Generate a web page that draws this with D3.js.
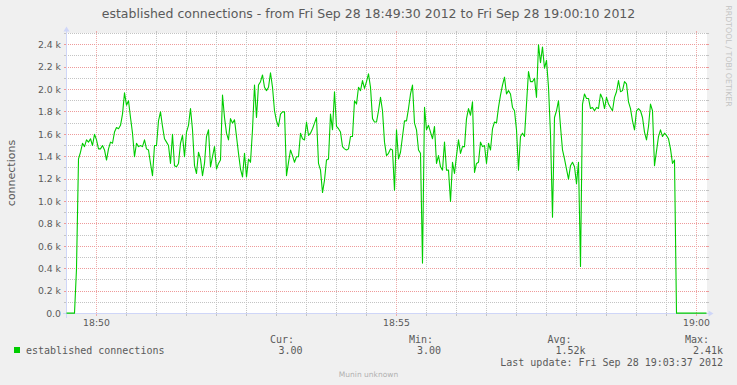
<!DOCTYPE html>
<html><head><meta charset="utf-8">
<script src="https://cdn.jsdelivr.net/npm/d3@7"></script>
<style>html,body{margin:0;padding:0;background:#f0f0f0;} svg{display:block;}</style>
</head><body><svg id="chart" width="737" height="385"></svg>
<script>
// ---------- data ----------
const chartTitle = "established connections - from Fri Sep 28 18:49:30 2012 to Fri Sep 28 19:00:10 2012";
const yAxisTitle = "connections";
const startTime = "2012-09-28T18:49:30Z";
const endTime = "2012-09-28T19:00:10Z";
const stepSeconds = 2;
const connections = [
  3,3,3,3,3,400,1380,1440,1520,1490,1550,1530,1560,1500,1600,1550,1470,1470,1500,1460,
  1370,1470,1530,1520,1620,1660,1650,1680,1780,1970,1860,1900,1750,1610,1400,1520,1490,1500,1490,1550,
  1470,1460,1340,1230,1500,1500,1720,1800,1670,1560,1530,1500,1340,1600,1320,1310,1340,1520,1590,1400,
  1620,1680,1830,1640,
  1320,1250,1440,1380,1230,1340,1580,1640,1310,1400,1490,1290,1340,1370,1950,1750,1610,1550,1740,1700,
  1730,1580,1430,1290,1220,1430,1220,1380,1350,1640,2040,1750,2040,2070,2130,2020,1990,2020,2150,2020,
  1810,1720,1670,1780,1800,1800,1230,1350,1460,1410,1350,1400,1400,1610,1560,1550,1710,1590,1610,1650,
  1700,1750,1340,1280,
  1080,1190,1370,1380,1780,1640,1980,1670,1650,1620,1490,1470,1460,1470,1580,1580,1900,1870,2020,1990,
  2080,2010,2070,2140,2020,1740,1710,1710,1810,1930,1810,1530,1410,1430,1470,1460,1100,1640,1380,1440,
  1580,1720,1720,1830,1960,2040,1700,1640,1460,1430,450,1840,1640,1680,1620,1560,1670,1340,1410,1310,
  1280,1530,1280,1280,
  1000,1350,1250,1410,1550,1430,1490,1490,1740,1830,1770,1890,1260,1340,1350,1530,1490,1500,1340,1520,
  1460,1650,1710,1700,1840,1950,2040,2110,1960,1990,1960,1840,1810,1640,1280,1580,1610,1580,1870,2160,
  2070,2070,2100,1930,2400,2240,2380,2190,2260,2020,1600,860,1750,1810,1900,1670,1460,1380,1290,1200,
  1320,1350,1310,1160,
  1350,420,1870,1960,1920,1920,1830,1840,1810,1840,1830,1960,1920,1830,1930,1870,1840,1810,1930,1980,
  2080,1980,1990,2070,2050,1890,1830,1720,1640,1810,1830,1810,1750,1620,1550,1670,1870,1810,1320,1450,
  1580,1640,1580,1610,1590,1560,1470,1340,1370,3,3,3,3,3,3,3,3,3,3,3,
  3,3,3,3,3
];
const yMax = 2500;
const yMajorStep = 200;
const yMinorStep = 100;
const xMinorSeconds = 30;
const xMajorMinutes = 5;
const seriesName = "established connections";
const seriesColor = "#00cc00";
const statHeaders = ["Cur:", "Min:", "Avg:", "Max:"];
const statValues = ["3.00", "3.00", "1.52k", "2.41k"];
const lastUpdate = "Last update: Fri Sep 28 19:03:37 2012";
const footerText = "Munin unknown";
const creditText = "RRDTOOL / TOBI OETIKER";

// ---------- layout ----------
const X0 = 66.5, X1 = 706.5, Y0 = 313.5, Y1 = 33.5;
const fontColor = "#5a5a5a";
const gridColor = "#c4c4c4";
const mgridColorH = "#ee9a9a";
const mgridColorV = "#eeaaaa";
const axisColor = "#cfd6f8";
const sans = "'DejaVu Sans', sans-serif";
const mono = "'DejaVu Sans Mono', monospace";

const svg = d3.select("#chart");
svg.append("rect").attr("width", 737).attr("height", 385).attr("fill", "#f0f0f0");

const t0 = new Date(startTime), t1 = new Date(endTime);
const x = d3.scaleUtc().domain([t0, t1]).range([X0, X1]);
const y = d3.scaleLinear().domain([0, yMax]).range([Y0, Y1]);
const data = connections.map((v, i) => ({t: new Date(t0.getTime() + i * stepSeconds * 1000), v}));

// canvas
svg.append("rect").attr("x", X0 + 0.5).attr("y", Y1 - 0.5).attr("width", X1 - X0).attr("height", Y0 - Y1 + 0.5).attr("fill", "#ffffff");

const grid = svg.append("g");

// horizontal grid (dotted 1px on / 1px off)
const yMinorTicks = d3.range(yMinorStep, yMax + 1, yMinorStep).filter(v => v % yMajorStep !== 0);
const yMajorTicks = d3.range(yMajorStep, yMax + 1, yMajorStep);
const xs0 = Math.floor(X0) - 2, xs1 = Math.floor(X1) + 2;
function hline(vals, color) {
  vals.forEach(v => {
    const row = Math.floor(y(v));
    grid.append("line").attr("x1", xs0).attr("x2", xs1 + 1).attr("y1", row + 0.5).attr("y2", row + 0.5)
      .attr("stroke", color).attr("stroke-dasharray", "1,1").attr("shape-rendering", "crispEdges");
    grid.append("rect").attr("x", xs0).attr("y", row).attr("width", 2).attr("height", 1).attr("fill", color);
    grid.append("rect").attr("x", xs1 - 1).attr("y", row).attr("width", 2).attr("height", 1).attr("fill", color);
  });
}
hline(yMinorTicks, gridColor);
hline(yMajorTicks, mgridColorH);

// vertical grid
const xAll = d3.utcSecond.every(xMinorSeconds).range(t0, t1);
const isMajor = d => d.getUTCSeconds() === 0 && d.getUTCMinutes() % xMajorMinutes === 0;
const xMajor = xAll.filter(isMajor);
const xMinor = xAll.filter(d => !isMajor(d) && +d !== +t0);
const ys0 = Math.floor(Y1) - 2, ys1 = Math.floor(Y0) + 2;
function vline(vals, color) {
  vals.forEach(d => {
    const col = Math.floor(x(d));
    grid.append("line").attr("x1", col + 0.5).attr("x2", col + 0.5).attr("y1", ys0 + 0.5).attr("y2", ys1 + 0.5)
      .attr("stroke", color).attr("stroke-dasharray", "1,1").attr("shape-rendering", "crispEdges");
    grid.append("rect").attr("x", col).attr("y", ys0).attr("width", 1).attr("height", 2).attr("fill", color);
    grid.append("rect").attr("x", col).attr("y", ys1 - 1).attr("width", 1).attr("height", 2).attr("fill", color);
  });
}
vline(xMinor, gridColor);
vline(xMajor, mgridColorV);

// axes
svg.append("line").attr("x1", X0 - 4).attr("x2", X1 + 4).attr("y1", Y0).attr("y2", Y0).attr("stroke", axisColor).attr("shape-rendering", "crispEdges");
svg.append("line").attr("x1", X0).attr("x2", X0).attr("y1", Y0 + 4).attr("y2", Y1 - 4).attr("stroke", axisColor).attr("shape-rendering", "crispEdges");
svg.append("path").attr("d", `M${X1 + 2},${Y0 - 3}L${X1 + 2},${Y0 + 3}L${X1 + 7},${Y0}Z`).attr("fill", axisColor);
svg.append("path").attr("d", `M${X0 - 3},${Y1 - 2}L${X0 + 3},${Y1 - 2}L${X0},${Y1 - 7}Z`).attr("fill", axisColor);

// series line
const line = d3.line().x(d => x(d.t)).y(d => y(d.v));
svg.append("path").datum(data).attr("d", line).attr("fill", "none")
  .attr("stroke", seriesColor).attr("stroke-width", 1.1).attr("stroke-linejoin", "round");

// y labels
const fmtY = v => v === 0 ? "0.0" : (v / 1000).toFixed(1) + " k";
svg.append("g").selectAll("text").data([0, ...d3.range(yMajorStep, yMax, yMajorStep)]).join("text")
  .attr("x", 61).attr("y", d => y(d)).attr("dy", "0.36em").attr("text-anchor", "end")
  .attr("font-family", sans).attr("font-size", 9.3).attr("fill", fontColor).text(fmtY);

// x labels
const fmtX = d3.utcFormat("%H:%M");
svg.append("g").selectAll("text").data(xMajor).join("text")
  .attr("x", d => x(d)).attr("y", 325.5).attr("text-anchor", "middle")
  .attr("font-family", sans).attr("font-size", 9.3).attr("fill", fontColor).text(fmtX);

// title
svg.append("text").attr("x", 368.5).attr("y", 18).attr("text-anchor", "middle")
  .attr("font-family", sans).attr("font-size", 12.5).attr("fill", fontColor).text(chartTitle);

// y axis title
svg.append("text").attr("transform", "translate(11,173) rotate(-90)").attr("dy", "0.35em")
  .attr("text-anchor", "middle").attr("font-family", sans).attr("font-size", 11)
  .attr("fill", fontColor).text(yAxisTitle);

// credit
svg.append("text").attr("transform", "translate(728.5,56) rotate(90)").attr("dy", "0.35em")
  .attr("text-anchor", "middle").attr("font-family", sans).attr("font-size", 7.9)
  .attr("fill", "#c4c4c4").text(creditText);

// legend
svg.append("rect").attr("x", 14).attr("y", 347).attr("width", 6).attr("height", 6).attr("fill", seriesColor);
svg.append("text").attr("x", 26).attr("y", 354).attr("font-family", mono).attr("font-size", 10)
  .attr("fill", fontColor).text(seriesName);
const headerRight = [294, 433, 571.5, 709];
const valueRight = [302.5, 441, 585.5, 723];
statHeaders.forEach((h, i) => {
  svg.append("text").attr("x", headerRight[i]).attr("y", 342.5).attr("text-anchor", "end")
    .attr("font-family", mono).attr("font-size", 10).attr("fill", fontColor).text(h);
  svg.append("text").attr("x", valueRight[i]).attr("y", 354).attr("text-anchor", "end")
    .attr("font-family", mono).attr("font-size", 10).attr("fill", fontColor).text(statValues[i]);
});
svg.append("text").attr("x", 723).attr("y", 366).attr("text-anchor", "end")
  .attr("font-family", mono).attr("font-size", 10).attr("fill", fontColor).text(lastUpdate);
svg.append("text").attr("x", 368.5).attr("y", 377).attr("text-anchor", "middle")
  .attr("font-family", sans).attr("font-size", 7.5).attr("fill", "#b0b0b0").text(footerText);
</script></body></html>
